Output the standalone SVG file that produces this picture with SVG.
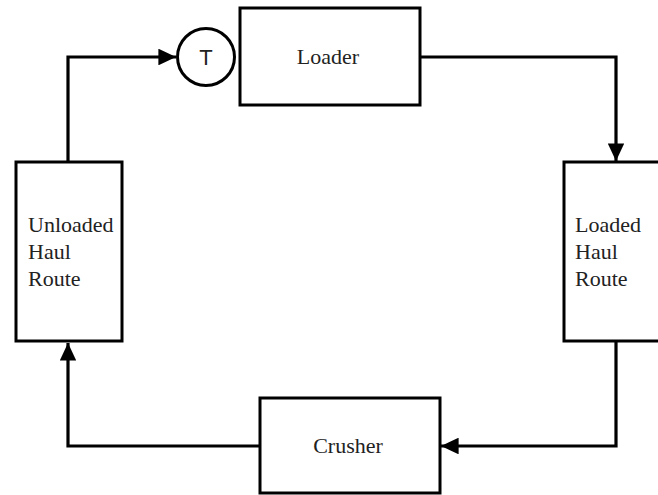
<svg xmlns="http://www.w3.org/2000/svg" width="658" height="495" viewBox="0 0 658 495">
  <style>
    .box { fill: #ffffff; stroke: #000000; stroke-width: 3; }
    .lbl { font-size: 22px; fill: #222222; }
    .wire { fill: none; stroke: #000000; stroke-width: 3.2; }
  </style>
  <defs>
    <marker id="arrow" viewBox="0 0 10 10" refX="10" refY="5" markerWidth="5.5" markerHeight="5.2" markerUnits="strokeWidth" orient="auto" preserveAspectRatio="none">
      <path d="M0,0 L10,5 L0,10 Z" fill="#000000"/>
    </marker>
  </defs>
  <rect width="658" height="495" fill="#ffffff"/>

  <g id="connectors">
    <path class="wire" d="M68,161 V57 H176" marker-end="url(#arrow)"/>
    <path class="wire" d="M420,57 H616 V161" marker-end="url(#arrow)"/>
    <path class="wire" d="M616,341 V446 H441" marker-end="url(#arrow)"/>
    <path class="wire" d="M260,446 H68 V343" marker-end="url(#arrow)"/>
  </g>

  <g id="timer">
    <circle cx="206" cy="57" r="28.5" fill="#ffffff" stroke="#000000" stroke-width="3"/>
    <text x="206" y="65" text-anchor="middle" font-family="'Liberation Sans', Arial, sans-serif" font-size="22" fill="#222222">T</text>
  </g>

  <g id="loader" font-family="'Liberation Serif', 'DejaVu Serif', serif">
    <rect class="box" x="240" y="8" width="180" height="97"/>
    <text class="lbl" x="328" y="64" text-anchor="middle">Loader</text>
  </g>

  <g id="loaded-haul-route" font-family="'Liberation Serif', 'DejaVu Serif', serif">
    <rect class="box" x="564" y="162" width="106" height="179"/>
    <text class="lbl" x="575" y="232">Loaded</text>
    <text class="lbl" x="575" y="259">Haul</text>
    <text class="lbl" x="575" y="286">Route</text>
  </g>

  <g id="crusher" font-family="'Liberation Serif', 'DejaVu Serif', serif">
    <rect class="box" x="260" y="398" width="180" height="95"/>
    <text class="lbl" x="348" y="453" text-anchor="middle">Crusher</text>
  </g>

  <g id="unloaded-haul-route" font-family="'Liberation Serif', 'DejaVu Serif', serif">
    <rect class="box" x="16" y="162" width="106" height="179"/>
    <text class="lbl" x="28" y="232">Unloaded</text>
    <text class="lbl" x="28" y="259">Haul</text>
    <text class="lbl" x="28" y="286">Route</text>
  </g>
</svg>
